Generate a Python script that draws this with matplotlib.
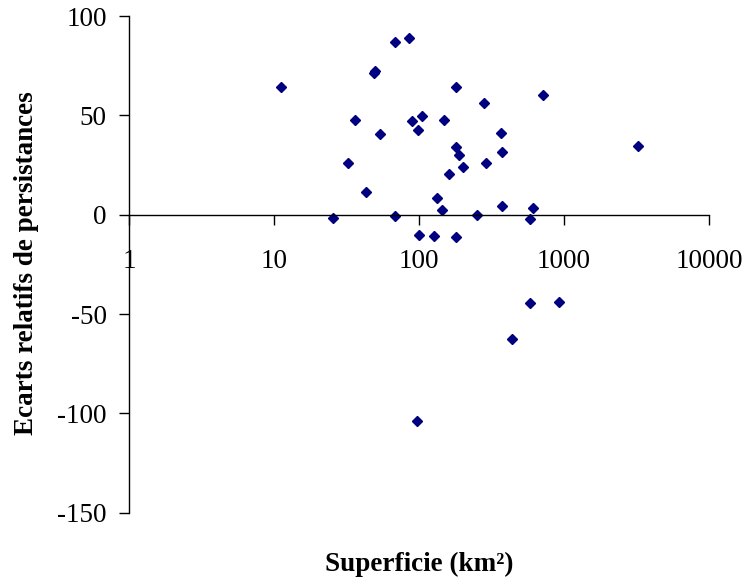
import matplotlib
matplotlib.use("Agg")
import matplotlib.pyplot as plt
from matplotlib.ticker import NullLocator

plt.rcParams['font.family'] = ['Liberation Serif', 'DejaVu Serif']
plt.rcParams['axes.unicode_minus'] = False

# surface (km2) and relative persistence deviation
superficie = [11.2, 25.7, 32.4, 36.0, 43.2, 49.2, 49.6, 54.2, 68.6, 68.6,
              85.1, 89.9, 98.4, 100.3, 96.4, 104.9, 125.9, 132.1, 143.5, 149.4,
              162.2, 180, 180, 190.2, 200.5, 180.6, 252.4, 280, 290.9, 366.6,
              375, 375, 435.8, 581, 583, 609.5, 719.7, 923.8, 3213]
ecarts = [64.3, -1.5, 25.9, 47.8, 11.2, 71.5, 72.2, 40.5, 86.9, -0.8,
          88.9, 47.2, 42.5, -10.1, -103.7, 49.8, -10.7, 8.6, 2.5, 47.9,
          20.5, 64.3, 34.0, 29.9, 23.9, -11.4, 0.0, 56.4, 25.9, 41.1,
          31.7, 4.5, -62.6, -2.2, -44.6, 3.2, 60.3, -43.9, 34.5]

x_ticks = [1, 10, 100, 1000, 10000]
x_labels = ["1", "10", "100", "1000", "10000"]
y_ticks = [-150, -100, -50, 0, 50, 100]
y_labels = ["-150", "-100", "-50", "0", "50", "100"]

fig = plt.figure(figsize=(7.49, 5.80), dpi=100)
ax = fig.add_axes([129/749, 1 - 512.7/580, 580/749, 496.7/580])

ax.plot(superficie, ecarts, linestyle='none', marker='D', ms=5,
        color='#000080', mec='#000080')

ax.set_xscale('log')
ax.set_xlim(1, 10000)
ax.set_ylim(-150, 100)
ax.set_xticks(x_ticks)
ax.set_xticklabels(x_labels)
ax.xaxis.set_minor_locator(NullLocator())
ax.set_yticks(y_ticks)
ax.set_yticklabels(y_labels)

ax.spines['top'].set_visible(False)
ax.spines['right'].set_visible(False)
ax.spines['bottom'].set_position(('data', 0))
for s in ['left', 'bottom']:
    ax.spines[s].set_linewidth(1.0)
    ax.spines[s].set_color('black')

ax.tick_params(axis='x', direction='out', length=7, width=1.0, pad=18, labelsize=19.5)
ax.tick_params(axis='y', direction='out', length=7, width=1.0, pad=9, labelsize=19.5)

fig.text(419/749, 1 - 564/580, "Superficie (km²)", ha='center', va='center',
         fontsize=19.5, fontweight='bold')
fig.text(27/749, 1 - 263/580, "Ecarts relatifs de persistances", ha='center',
         va='center', rotation=90, fontsize=19.5, fontweight='bold')

fig.savefig("out.png", dpi=100)
